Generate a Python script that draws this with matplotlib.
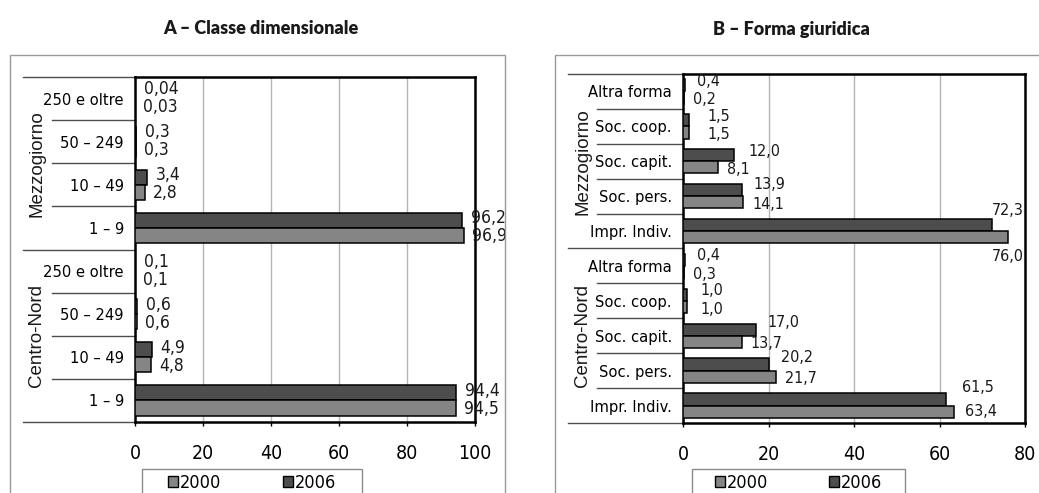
import matplotlib
matplotlib.use("Agg")
import matplotlib.pyplot as plt
from matplotlib.patches import Rectangle, Patch
from matplotlib.lines import Line2D
from matplotlib import font_manager

# ---------------- data ----------------
groups = ["Mezzogiorno", "Centro-Nord"]

size_classes = ["250 e oltre", "50 – 249", "10 – 49", "1 – 9"]
size_2006 = {"Mezzogiorno": [0.04, 0.3, 3.4, 96.2],
             "Centro-Nord": [0.1, 0.6, 4.9, 94.4]}
size_2000 = {"Mezzogiorno": [0.03, 0.3, 2.8, 96.9],
             "Centro-Nord": [0.1, 0.6, 4.8, 94.5]}

legal_forms = ["Altra forma", "Soc. coop.", "Soc. capit.", "Soc. pers.", "Impr. Indiv."]
legal_2006 = {"Mezzogiorno": [0.4, 1.5, 12.0, 13.9, 72.3],
              "Centro-Nord": [0.4, 1.0, 17.0, 20.2, 61.5]}
legal_2000 = {"Mezzogiorno": [0.2, 1.5, 8.1, 14.1, 76.0],
              "Centro-Nord": [0.3, 1.0, 13.7, 21.7, 63.4]}

years = ["2000", "2006"]
titles = ["A – Classe dimensionale", "B – Forma giuridica"]
xticks_a = [0, 20, 40, 60, 80, 100]
xticks_b = [0, 20, 40, 60, 80]

# ---------------- style ----------------
W, H = 1039, 493
C2000 = "#858585"
C2006 = "#4d4d4d"
REGULAR = ["Liberation Sans", "DejaVu Sans"]

# a condensed face for the chart labels when one is available
_names = {f.name for f in font_manager.fontManager.ttflist}
_condensed = [f for f in font_manager.fontManager.ttflist
              if f.name == "DejaVu Sans" and "ondensed" in str(f.stretch) + f.fname]
if "Liberation Sans Narrow" in _names:
    NARROW = dict(family=["Liberation Sans Narrow"], stretch="normal", scale=1.0)
elif _condensed:
    NARROW = dict(family=["DejaVu Sans"], stretch="condensed", scale=1.0)
else:
    NARROW = dict(family=["Liberation Sans"], stretch="normal", scale=0.86)


def nfont(size):
    return dict(family=NARROW["family"], fontstretch=NARROW["stretch"],
                fontsize=size * NARROW["scale"])


fig = plt.figure(figsize=(W / 100, H / 100), dpi=100)
fig.patch.set_facecolor("white")


def fx(px):
    return px / W


def fy(py):
    return 1 - py / H


def fmt(v):
    s = f"{v:.2f}" if v < 0.1 else f"{v:.1f}"
    return s.replace(".", ",")


def panel(rect_px, frame_px, cats, d2006, d2000, xmax, xticks, title,
          title_x, legend_px, group_x_px, label_size, defaults, label_offsets):
    x0, ytop, x1, ybot = rect_px
    ax = fig.add_axes([fx(x0), fy(ybot), fx(x1 - x0), (ybot - ytop) / H])

    # panel frame
    fxl, fyt, fxr, fyb = frame_px
    fig.patches.append(Rectangle((fx(fxl), fy(fyb)), fx(fxr - fxl), (fyb - fyt) / H,
                                 transform=fig.transFigure, fill=False,
                                 edgecolor="#9a9a9a", linewidth=1.0, zorder=0))
    fig.text(fx(title_x), fy(29), title, ha="center", va="center",
             fontsize=13, fontweight="heavy", family=["Lato", "DejaVu Sans"],
             color="#1a1a1a")

    n = len(cats)
    labels = []
    v06, v00 = [], []
    for g in groups:
        labels += cats
        v06 += d2006[g]
        v00 += d2000[g]
    ypos = list(range(len(labels)))
    bh = 0.35
    y06 = [y - bh / 2 for y in ypos]
    y00 = [y + bh / 2 for y in ypos]
    b06 = ax.barh(y06, v06, height=bh, color=C2006, edgecolor="black", linewidth=1.1, zorder=3)
    b00 = ax.barh(y00, v00, height=bh, color=C2000, edgecolor="black", linewidth=1.1, zorder=3)

    ax.set_xlim(0, xmax)
    ax.set_ylim(len(labels) - 0.5, -0.5)
    ax.set_xticks(xticks)
    ax.set_xticklabels([str(t) for t in xticks], **nfont(14))
    ax.set_yticks(ypos)
    ax.set_yticklabels(labels, **nfont(11.8))
    ax.tick_params(axis="y", length=0, pad=8)
    ax.tick_params(axis="x", length=3, width=1, pad=13, colors="black")
    ax.grid(axis="x", color="#b5b5b5", linewidth=1.0, zorder=0)
    for s in ax.spines.values():
        s.set_linewidth(1.8)
        s.set_color("black")

    # value labels
    for bars, vals, key in ((b06, v06, "2006"), (b00, v00, "2000")):
        for i, (bar, v) in enumerate(zip(bars, vals)):
            dx, dy, ha = label_offsets.get((i, key), defaults[key])
            ax.annotate(fmt(v), xy=(v, bar.get_y() + bar.get_height() / 2),
                        xytext=(dx * 0.72, dy * 0.72), textcoords="offset points",
                        ha=ha, va="center", color="#1a1a1a", zorder=5,
                        annotation_clip=False, **nfont(label_size))

    # category separators in the label column
    frac_outer = (group_x_px[0] - x0) / (x1 - x0)
    frac_inner = (group_x_px[1] - x0) / (x1 - x0)
    for r in range(len(labels) + 1):
        yy = r - 0.5
        start = frac_outer if r % n == 0 else frac_inner
        ax.add_line(Line2D([start, 0], [yy, yy], transform=ax.get_yaxis_transform(),
                           color="#4d4d4d", linewidth=1.0, clip_on=False))
    # group names
    gtrans = matplotlib.transforms.blended_transform_factory(fig.transFigure, ax.transData)
    for gi, g in enumerate(groups):
        yc = gi * n + (n - 1) / 2
        ax.text(fx(group_x_px[2]), yc, g, rotation=90, ha="center", va="center",
                fontsize=13.5, family=REGULAR, color="#1a1a1a", transform=gtrans)

    # legend: framed box with the two year swatches
    lx0, ly0, lx1 = legend_px
    fig.patches.append(Rectangle((fx(lx0), fy(H + 10)), fx(lx1 - lx0), (H + 10 - ly0) / H,
                                 transform=fig.transFigure, fill=False,
                                 edgecolor="#8a8a8a", linewidth=1.0, zorder=1))
    handles = [Patch(facecolor=C2000, edgecolor="black", linewidth=1.0),
               Patch(facecolor=C2006, edgecolor="black", linewidth=1.0)]
    fig.legend(handles, years, ncol=2, loc="center",
               bbox_to_anchor=(fx((lx0 + lx1) / 2), fy(483)),
               frameon=False, handlelength=0.55, handleheight=0.6, handletextpad=0.1,
               borderaxespad=0, borderpad=0, columnspacing=3.4,
               prop=font_manager.FontProperties(family=NARROW["family"],
                                                stretch=NARROW["stretch"],
                                                size=13 * NARROW["scale"]))
    return ax


defaults_a = {"2006": (9, 2, "left"), "2000": (8, -1, "left")}
panel((135, 77, 475, 422), (10, 55, 505, 520), size_classes, size_2006, size_2000,
      100, xticks_a, titles[0], 261, (142, 469, 362), (23, 52, 37), 12.5,
      defaults_a, {})

defaults_b = {"2006": (12, 4, "left"), "2000": (9, -2, "left")}
offsets_b = {
    (1, "2006"): (18, 4, "left"),
    (1, "2000"): (18, -2, "left"),
    (2, "2006"): (14, 4, "left"),
    (3, "2006"): (11, 6, "left"),
    (4, "2006"): (0, 14, "left"),
    (4, "2000"): (0, -19, "center"),
    (6, "2006"): (13, 4, "left"),
    (6, "2000"): (13, -3, "left"),
    (7, "2006"): (12, 7, "left"),
    (8, "2006"): (12, 7, "left"),
    (9, "2006"): (16, 12, "left"),
    (9, "2000"): (11, 0, "left"),
}
panel((683, 74, 1025, 423), (555, 55, 1060, 520), legal_forms, legal_2006, legal_2000,
      80, xticks_b, titles[1], 791, (692, 469, 905), (568, 597, 583), 11.5,
      defaults_b, offsets_b)

fig.savefig("out.png", dpi=100, facecolor="white")
